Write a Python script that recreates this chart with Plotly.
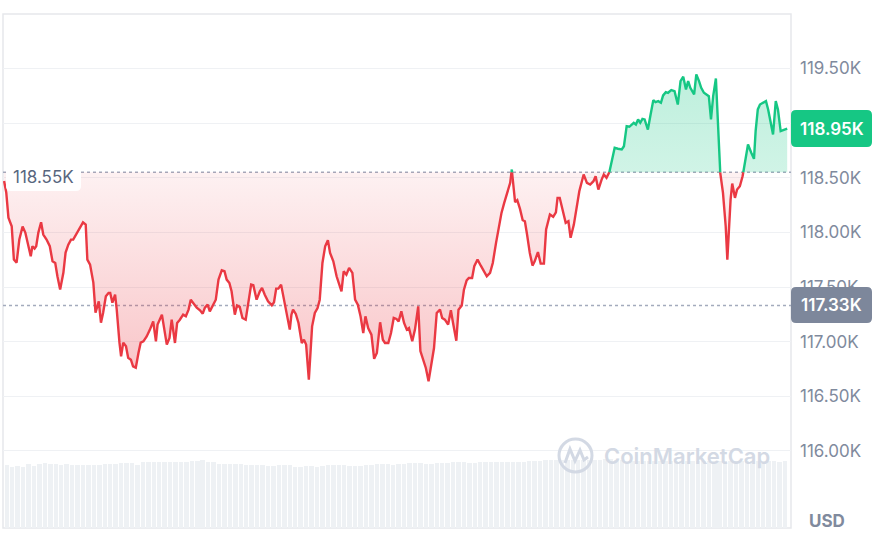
import plotly.graph_objects as go

# ---------------- data ----------------
minutes = [0, 4, 8, 14, 18, 23, 28, 34, 39, 45, 49, 52, 56, 59, 63, 68, 72, 78, 84, 89, 94, 98, 103, 109, 113, 118, 123, 127, 132, 140, 145, 150, 153, 158, 164, 168, 171, 174, 178, 182, 187, 192, 195, 199, 204, 207, 212, 215, 219, 224, 228, 233, 237, 242, 247, 251, 256, 262, 268, 274, 279, 282, 290, 294, 299, 304, 308, 314, 318, 323, 329, 334, 339, 343, 348, 354, 360, 365, 369, 374, 378, 383, 389, 394, 400, 405, 409, 414, 418, 424, 428, 433, 438, 444, 449, 454, 458, 464, 470, 474, 479, 485, 492, 496, 500, 504, 509, 513, 518, 522, 525, 528, 531, 536, 541, 544, 547, 551, 555, 560, 563, 566, 571, 576, 580, 585, 590, 595, 599, 605, 611, 615, 620, 624, 629, 634, 640, 645, 650, 655, 660, 664, 669, 675, 680, 685, 691, 696, 700, 706, 711, 716, 721, 725, 730, 735, 740, 744, 750, 755, 761, 765, 770, 775, 780, 785, 790, 795, 801, 805, 810, 816, 821, 825, 831, 835, 841, 845, 850, 854, 860, 864, 870, 876, 880, 887, 893, 898, 904, 909, 914, 919, 925, 930, 933, 935, 939, 943, 948, 953, 957, 961, 966, 971, 975, 981, 986, 992, 996, 1003, 1009, 1014, 1017, 1021, 1027, 1032, 1037, 1041, 1047, 1052, 1057, 1065, 1071, 1077, 1083, 1087, 1092, 1098, 1102, 1107, 1112, 1116, 1122, 1128, 1135, 1139, 1144, 1149, 1153, 1157, 1161, 1165, 1169, 1173, 1177, 1183, 1188, 1193, 1197, 1202, 1207, 1211, 1216, 1220, 1226, 1232, 1238, 1243, 1248, 1253, 1257, 1261, 1268, 1272, 1277, 1281, 1286, 1291, 1295, 1299, 1303, 1308, 1312, 1316, 1321, 1326, 1329, 1332, 1335, 1338, 1343, 1347, 1352, 1357, 1361, 1367, 1373, 1378, 1381, 1385, 1389, 1395, 1400, 1404, 1409, 1413, 1418, 1422, 1427, 1433, 1439]

prices = [118470, 118364, 118135, 118056, 117751, 117723, 117934, 118053, 117998, 117873, 117781, 117873, 117852, 117873, 117998, 118092, 117980, 117934, 117873, 117735, 117720, 117598, 117476, 117632, 117815, 117888, 117934, 117934, 117980, 118056, 118092, 118071, 117751, 117705, 117540, 117265, 117323, 117369, 117174, 117265, 117415, 117446, 117446, 117357, 117430, 117293, 116991, 116865, 116991, 116957, 116853, 116835, 116774, 116762, 116899, 116991, 117003, 117048, 117110, 117186, 117003, 117156, 117247, 117110, 116973, 117034, 117201, 116988, 117171, 117201, 117247, 117232, 117293, 117384, 117354, 117311, 117287, 117256, 117311, 117339, 117277, 117330, 117384, 117568, 117653, 117644, 117568, 117537, 117461, 117247, 117330, 117318, 117217, 117201, 117384, 117522, 117516, 117384, 117461, 117492, 117430, 117369, 117332, 117360, 117485, 117485, 117522, 117415, 117318, 117201, 117110, 117247, 117293, 117254, 117171, 117079, 116988, 117018, 116973, 116652, 116896, 117140, 117263, 117308, 117384, 117720, 117873, 117928, 117812, 117735, 117598, 117537, 117461, 117644, 117613, 117675, 117629, 117384, 117339, 117232, 117079, 117232, 117125, 117064, 116843, 116896, 117177, 117018, 116988, 116988, 117079, 117217, 117208, 117186, 117277, 117171, 117110, 117125, 117003, 117110, 117323, 116914, 116833, 116759, 116638, 116805, 116942, 117263, 117293, 117217, 117201, 117156, 117287, 117171, 117009, 117293, 117330, 117476, 117561, 117583, 117583, 117690, 117751, 117695, 117659, 117598, 117629, 117720, 117904, 118056, 118178, 118270, 118362, 118453, 118575, 118453, 118276, 118294, 118215, 118111, 118102, 117980, 117812, 117696, 117735, 117820, 117714, 117714, 118026, 118163, 118142, 118184, 118316, 118316, 118178, 118087, 118102, 117950, 118071, 118224, 118376, 118529, 118453, 118438, 118468, 118514, 118392, 118483, 118529, 118499, 118545, 118651, 118774, 118765, 118758, 118788, 118972, 118966, 118987, 119003, 118987, 119033, 119003, 119039, 119033, 118941, 119079, 119210, 119191, 119201, 119186, 119253, 119283, 119277, 119301, 119292, 119170, 119384, 119424, 119308, 119384, 119323, 119262, 119445, 119384, 119323, 119277, 119262, 119246, 119033, 119246, 119408, 118987, 118545, 118362, 118056, 117751, 118056, 118300, 118447, 118316, 118392, 118422, 118514, 118621, 118804, 118728, 118673, 118926, 119125, 119170, 119186, 119201, 119125, 119003, 118896, 119201, 119125, 118926, 118935, 118950]

# volume bars (10-minute buckets, relative heights)
volumes = [63, 61, 62, 61, 64, 62,
           64, 65, 64, 64, 63,
           64, 63, 63, 63, 63, 63, 63,
           64, 64, 64, 65, 65, 65, 63,
           66, 66, 66, 66, 66, 66, 66, 66, 66,
           67, 67, 68, 66, 66,
           64, 64, 64, 64, 64,
           63, 63, 63, 63, 62, 62, 63, 63, 63,
           61, 61, 62, 62, 61,
           62, 63, 63, 63, 63, 62, 62, 62, 63, 63, 64, 64, 64, 63, 64, 64,
           65, 65, 65, 64, 64, 65, 65, 65, 66, 66, 66, 65, 65,
           66, 66, 66, 66, 66, 66, 66, 66, 66, 67, 67, 67,
           68, 68, 68, 68, 68, 68, 68, 68, 68, 68, 68, 69, 69, 68, 68, 67, 67, 67, 67, 67,
           67, 67, 67, 67, 67, 67, 67, 67, 67, 67, 67, 67, 67, 67, 67, 67, 67, 67, 67, 67,
           67, 67, 67, 66, 67]
volume_minutes = [5 + 10 * i for i in range(len(volumes))]

open_price = 118550
marker_price = 117330
last_price = 118950
tick_values = [116000, 116500, 117000, 117500, 118000, 118500, 119000, 119500]
# the 119.00K label sits fully under the current-price badge in the reference
tick_labels = ["116.00K", "116.50K", "117.00K", "117.50K", "118.00K", "118.50K", "", "119.50K"]

GREEN = "#16c784"
RED = "#ea3943"
GREY_TXT = "#808a9d"

# ---------------- split line at open price ----------------
xs, ys = [minutes[0]], [prices[0]]
for i in range(1, len(minutes)):
    t0, v0, t1, v1 = minutes[i - 1], prices[i - 1], minutes[i], prices[i]
    if (v0 - open_price) * (v1 - open_price) < 0:
        f = (open_price - v0) / (v1 - v0)
        xs.append(t0 + f * (t1 - t0))
        ys.append(open_price)
    xs.append(t1)
    ys.append(v1)

up_line = [y if y >= open_price else None for y in ys]
dn_line = [y if y <= open_price else None for y in ys]
up_area = [max(y, open_price) for y in ys]
dn_area = [min(y, open_price) for y in ys]
base = [open_price] * len(xs)

fig = go.Figure()

fig.add_trace(go.Bar(x=volume_minutes, y=volumes, yaxis="y2", marker_color="#eef1f4",
                     marker_line_width=0, width=8.2, hoverinfo="skip"))

fig.add_trace(go.Scatter(x=xs, y=base, mode="lines", line=dict(width=0), hoverinfo="skip"))
fig.add_trace(go.Scatter(x=xs, y=up_area, mode="lines", line=dict(width=0), fill="tonexty",
                         fillgradient=dict(type="vertical",
                                           colorscale=[[0, "rgba(22,199,132,0.20)"], [1, "rgba(22,199,132,0.28)"]],
                                           start=open_price, stop=119450),
                         hoverinfo="skip"))
fig.add_trace(go.Scatter(x=xs, y=base, mode="lines", line=dict(width=0), hoverinfo="skip"))
fig.add_trace(go.Scatter(x=xs, y=dn_area, mode="lines", line=dict(width=0), fill="tonexty",
                         fillgradient=dict(type="vertical",
                                           colorscale=[[0, "rgba(234,57,67,0.30)"], [1, "rgba(234,57,67,0.07)"]],
                                           start=116640, stop=open_price),
                         hoverinfo="skip"))
fig.add_trace(go.Scatter(x=xs, y=dn_line, mode="lines", line=dict(color=RED, width=2.4), connectgaps=False))
fig.add_trace(go.Scatter(x=xs, y=up_line, mode="lines", line=dict(color=GREEN, width=2.4), connectgaps=False))

# ---------------- pixel helpers for decorations ----------------
L, R, T, B = 3, 791, 14, 528


def px(x):
    return (x - L) / (R - L)


def py(y):
    return (B - y) / (B - T)


def rrect(x0, y0, x1, y1, r):
    p = [("M", x0 + r, y0), ("L", x1 - r, y0), ("Q", x1, y0, x1, y0 + r), ("L", x1, y1 - r),
         ("Q", x1, y1, x1 - r, y1), ("L", x0 + r, y1), ("Q", x0, y1, x0, y1 - r), ("L", x0, y0 + r),
         ("Q", x0, y0, x0 + r, y0)]
    out = ""
    for seg in p:
        cmd = seg[0]
        pts = seg[1:]
        coords = []
        for k in range(0, len(pts), 2):
            coords.append(f"{px(pts[k]):.5f},{py(pts[k + 1]):.5f}")
        out += cmd + " " + " ".join(coords) + " "
    return out + "Z"


shapes = [
    dict(type="rect", xref="paper", yref="paper", x0=0, x1=1, y0=0, y1=1,
         line=dict(color="#e6e8eb", width=1.5), layer="below"),
    dict(type="line", xref="paper", yref="y", x0=0, x1=1, y0=open_price, y1=open_price,
         line=dict(color="#a3abbd", width=1.5, dash="dot"), layer="below"),
    dict(type="line", xref="paper", yref="y", x0=0, x1=1, y0=marker_price, y1=marker_price,
         line=dict(color="#a3abbd", width=1.5, dash="dot"), layer="below"),
    dict(type="path", xref="paper", yref="paper", path=rrect(6, 163, 81, 191, 5),
         fillcolor="white", line=dict(width=0), layer="above"),
    dict(type="path", xref="paper", yref="paper", path=rrect(791, 110, 872, 147, 5),
         fillcolor=GREEN, line=dict(width=0), layer="above"),
    dict(type="path", xref="paper", yref="paper", path=rrect(791, 287, 872, 323, 5),
         fillcolor="#7d879b", line=dict(width=0), layer="above"),
    # watermark logo
    dict(type="circle", xref="paper", yref="paper", x0=px(559), x1=px(592), y0=py(472), y1=py(439),
         line=dict(color="#d3d9e4", width=3), layer="above"),
    dict(type="path", xref="paper", yref="paper",
         path=f"M {px(565):.5f},{py(463):.5f} L {px(570):.5f},{py(449):.5f} L {px(575):.5f},{py(461):.5f} "
              f"L {px(580):.5f},{py(450):.5f} L {px(584):.5f},{py(460):.5f} L {px(588):.5f},{py(457):.5f}",
         line=dict(color="#d3d9e4", width=3), layer="above"),
]

annotations = [
    dict(xref="paper", yref="paper", x=px(43), y=py(177), text="118.55K", showarrow=False,
         font=dict(family="Inter", size=17, color="#58667e"), xanchor="center", yanchor="middle"),
    dict(xref="paper", yref="paper", x=px(831.5), y=py(128.5), text="118.95K", showarrow=False,
         font=dict(family="Inter", size=17, color="white", weight=600), xanchor="center", yanchor="middle"),
    dict(xref="paper", yref="paper", x=px(831.5), y=py(305), text="117.33K", showarrow=False,
         font=dict(family="Inter", size=17, color="white", weight=600), xanchor="center", yanchor="middle"),
    dict(xref="paper", yref="paper", x=px(827), y=py(521), text="USD", showarrow=False,
         font=dict(family="Inter", size=17, color=GREY_TXT, weight=700), xanchor="center", yanchor="middle"),
    dict(xref="paper", yref="paper", x=px(686.5), y=py(456), text="CoinMarketCap", showarrow=False,
         font=dict(family="Inter", size=22, color="#d3d9e4", weight=600), xanchor="center", yanchor="middle"),
]

fig.update_layout(
    width=895, height=534,
    margin=dict(l=L, r=895 - R, t=T, b=534 - B),
    paper_bgcolor="white", plot_bgcolor="white",
    showlegend=False,
    bargap=0,
    xaxis=dict(range=[-2, 1446], showgrid=False, zeroline=False, showticklabels=False, ticks=""),
    yaxis=dict(range=[115295, 119998], side="right", tickvals=tick_values, ticktext=tick_labels,
               showgrid=True, gridcolor="#eff1f4", gridwidth=1, zeroline=False, ticks="",
               ticklabelstandoff=8,
               tickfont=dict(family="Inter", size=17, color=GREY_TXT)),
    yaxis2=dict(range=[0, B - T], overlaying="y", visible=False),
    shapes=shapes,
    annotations=annotations,
)

fig.write_html("out.html",
               config={"displayModeBar": False},
               post_script="document.body.style.margin='0';document.body.style.overflow='hidden';")
